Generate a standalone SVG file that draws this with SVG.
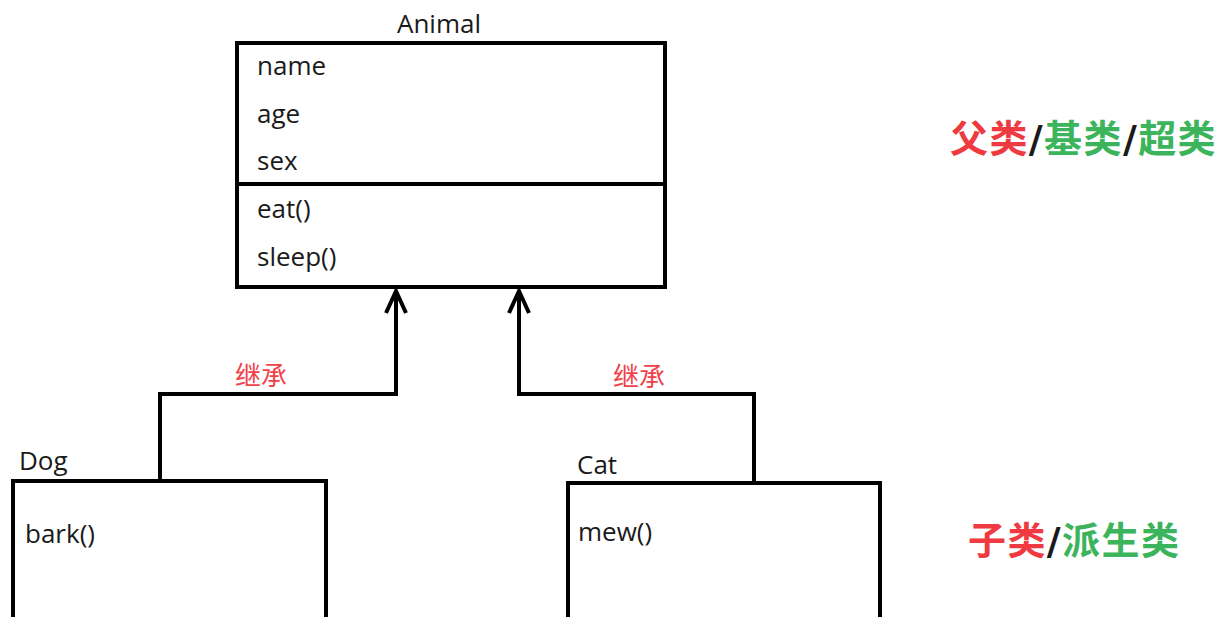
<svg xmlns="http://www.w3.org/2000/svg" width="1217" height="617" viewBox="0 0 1217 617">
<style>
.box{fill:none;stroke:#000;stroke-width:4}
.t{font-family:"Open Sans","Noto Sans",sans-serif;font-size:26px;fill:#1a1a1a}
.lbl{font-family:"Noto Sans CJK SC",sans-serif;font-size:26px;fill:#f0424a}
.big{font-family:"Noto Sans CJK SC",sans-serif;font-size:38px;font-weight:bold;letter-spacing:1.4px}
.red{fill:#ee3a40}.green{fill:#3cb45c}.blk{fill:#1a1a1a;font-family:"DejaVu Sans",sans-serif;font-weight:bold}
.conn{fill:none;stroke:#000;stroke-width:4;stroke-linejoin:miter}
</style>
<rect width="1217" height="617" fill="#fff"/>
<g id="animal">
<rect class="box" x="237" y="43" width="428" height="244"/>
<line x1="235" y1="184" x2="665" y2="184" stroke="#000" stroke-width="4"/>
<text class="t" x="439" y="33" text-anchor="middle">Animal</text>
<text class="t" x="257" y="75">name</text>
<text class="t" x="257" y="123">age</text>
<text class="t" x="257" y="170">sex</text>
<text class="t" x="257" y="218">eat()</text>
<text class="t" x="257" y="266">sleep()</text>
</g>
<g id="dog">
<rect class="box" x="13" y="481" width="313" height="150"/>
<text class="t" x="19" y="470">Dog</text>
<text class="t" x="25" y="543">bark()</text>
</g>
<g id="cat">
<rect class="box" x="568" y="483" width="312" height="150"/>
<text class="t" x="577" y="474">Cat</text>
<text class="t" x="578" y="541">mew()</text>
</g>
<g id="connectors">
<polyline class="conn" points="160,479 160,394 396,394 396,291"/>
<polyline class="conn" points="386,313 396,291 406,313"/>
<polyline class="conn" points="754,481 754,394 519,394 519,291"/>
<polyline class="conn" points="509,313 519,291 529,313"/>
<text class="lbl" x="261" y="385" text-anchor="middle">继承</text>
<text class="lbl" x="639" y="386" text-anchor="middle">继承</text>
</g>
<g id="labels">
<text class="big" x="950" y="152"><tspan class="red">父类</tspan><tspan class="blk">/</tspan><tspan class="green">基类</tspan><tspan class="blk">/</tspan><tspan class="green">超类</tspan></text>
<text class="big" x="968" y="554"><tspan class="red">子类</tspan><tspan class="blk">/</tspan><tspan class="green">派生类</tspan></text>
</g>
</svg>
